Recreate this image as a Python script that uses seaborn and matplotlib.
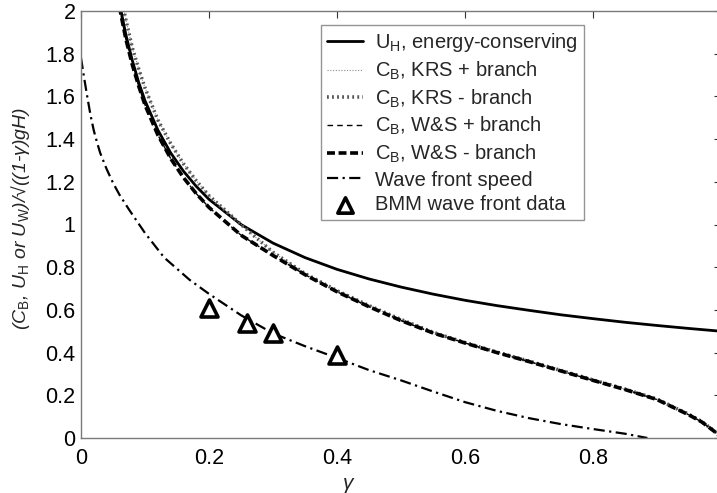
import matplotlib
matplotlib.use("Agg")
import matplotlib.pyplot as plt
import seaborn as sns

# Energy-conserving front speed U_H
gamma_uh = [0.06, 0.0625, 0.07, 0.08, 0.09, 0.10, 0.12, 0.14, 0.16, 0.18, 0.20, 0.25,
            0.30, 0.35, 0.40, 0.45, 0.50, 0.55, 0.60, 0.65, 0.70, 0.75, 0.80, 0.85,
            0.90, 0.95, 1.00]
uh = [2.04, 2.00, 1.89, 1.77, 1.667, 1.58, 1.443, 1.336, 1.25, 1.179, 1.118, 1.00,
      0.913, 0.845, 0.79, 0.745, 0.707, 0.674, 0.645, 0.62, 0.598, 0.577, 0.559, 0.542,
      0.527, 0.513, 0.50]

# Bore speed C_B, KRS theory (+ and - branches)
gamma_krs = [0.06, 0.07, 0.08, 0.09, 0.10, 0.12, 0.14, 0.16, 0.18, 0.20, 0.25, 0.30,
             0.35, 0.40, 0.45, 0.50, 0.55, 0.60, 0.65, 0.70, 0.75, 0.80, 0.85, 0.90,
             0.95, 0.97, 0.99, 1.00]
krs_plus = [2.10, 1.96, 1.83, 1.73, 1.64, 1.49, 1.38, 1.285, 1.205, 1.135, 1.00, 0.87,
            0.77, 0.69, 0.62, 0.555, 0.495, 0.447, 0.402, 0.36, 0.316, 0.272, 0.229, 0.182,
            0.11, 0.077, 0.032, 0.0]
krs_minus = [2.10, 1.96, 1.83, 1.73, 1.64, 1.49, 1.38, 1.285, 1.205, 1.135, 1.00, 0.87,
             0.77, 0.69, 0.62, 0.555, 0.495, 0.447, 0.402, 0.36, 0.316, 0.272, 0.229, 0.182,
             0.11, 0.077, 0.032, 0.0]

# Bore speed C_B, W&S theory (+ and - branches)
gamma_ws = [0.06, 0.07, 0.08, 0.09, 0.10, 0.12, 0.14, 0.16, 0.18, 0.20, 0.25, 0.30,
            0.35, 0.40, 0.45, 0.50, 0.55, 0.60, 0.65, 0.70, 0.75, 0.80, 0.85, 0.90,
            0.95, 0.97, 0.99, 1.00]
ws_plus = [2.02, 1.87, 1.75, 1.65, 1.56, 1.42, 1.31, 1.22, 1.145, 1.08, 0.95, 0.855,
           0.765, 0.685, 0.615, 0.55, 0.492, 0.445, 0.40, 0.358, 0.314, 0.27, 0.227, 0.18,
           0.108, 0.075, 0.03, 0.0]
ws_minus = [2.02, 1.87, 1.75, 1.65, 1.56, 1.42, 1.31, 1.22, 1.145, 1.08, 0.95, 0.855,
            0.765, 0.685, 0.615, 0.55, 0.492, 0.445, 0.40, 0.358, 0.314, 0.27, 0.227, 0.18,
            0.108, 0.075, 0.03, 0.0]

# Wave front speed
gamma_wave = [0.0, 0.005, 0.01, 0.015, 0.02, 0.025, 0.03, 0.04, 0.05, 0.06, 0.075,
              0.10, 0.13, 0.17, 0.20, 0.25, 0.30, 0.35, 0.40, 0.45, 0.50, 0.55, 0.60,
              0.65, 0.70, 0.75, 0.80, 0.85, 0.885]
wave = [1.78, 1.685, 1.595, 1.51, 1.44, 1.385, 1.335, 1.26, 1.195, 1.14, 1.07,
        0.96, 0.845, 0.74, 0.675, 0.575, 0.49, 0.43, 0.375, 0.318, 0.27, 0.218, 0.168,
        0.127, 0.093, 0.065, 0.042, 0.02, 0.0]

# BMM wave front measurements
gamma_bmm = [0.20, 0.26, 0.30, 0.40]
bmm = [0.61, 0.54, 0.49, 0.39]

xticks = [0, 0.2, 0.4, 0.6, 0.8, 1.0]
xtick_labels = ["0", "0.2", "0.4", "0.6", "0.8", "1"]
yticks = [0, 0.2, 0.4, 0.6, 0.8, 1.0, 1.2, 1.4, 1.6, 1.8, 2.0]
ytick_labels = ["0", "0.2", "0.4", "0.6", "0.8", "1", "1.2", "1.4", "1.6", "1.8", "2"]

sns.set_theme(style="white")
plt.rcParams["font.family"] = ["Liberation Sans", "DejaVu Sans"]
plt.rcParams["mathtext.fontset"] = "custom"
plt.rcParams["mathtext.rm"] = "Liberation Sans"
plt.rcParams["mathtext.it"] = "Liberation Sans:italic"
plt.rcParams["mathtext.bf"] = "Liberation Sans:bold"

fig = plt.figure(figsize=(7.17, 4.93), dpi=100)
ax = fig.add_axes([81 / 717, 55 / 493, 640 / 717, 427 / 493])

common = dict(ax=ax, sort=False, estimator=None, color="black")
sns.lineplot(x=gamma_uh, y=uh, linewidth=2.0, linestyle="-",
             label=r"U$_\mathrm{H}$, energy-conserving", **common)
sns.lineplot(x=gamma_krs, y=krs_plus, linewidth=0.8, linestyle=(0, (1, 1.5)),
             label=r"C$_\mathrm{B}$, KRS + branch", **{**common, "color": "#8a8a8a"})
sns.lineplot(x=gamma_krs, y=krs_minus, linewidth=2.6, linestyle=(0, (0.5, 0.9)),
             label=r"C$_\mathrm{B}$, KRS - branch", **{**common, "color": "#555555"})
sns.lineplot(x=gamma_ws, y=ws_plus, linewidth=1.0, linestyle=(0, (4, 3)),
             label=r"C$_\mathrm{B}$, W&S + branch", **common)
sns.lineplot(x=gamma_ws, y=ws_minus, linewidth=2.6, linestyle=(0, (2.2, 1.0)),
             label=r"C$_\mathrm{B}$, W&S - branch", **common)
sns.lineplot(x=gamma_wave, y=wave, linewidth=1.6, linestyle=(0, (5, 2, 1, 2)),
             label="Wave front speed", **common)
sns.scatterplot(x=gamma_bmm, y=bmm, ax=ax, marker="^", s=150, facecolor="white",
                edgecolor="black", linewidth=2.6, label="BMM wave front data",
                zorder=5)

ax.set_xlim(0, 1)
ax.set_ylim(0, 2)
ax.set_xticks(xticks)
ax.set_xticklabels(xtick_labels)
ax.set_yticks(yticks)
ax.set_yticklabels(ytick_labels)
ax.tick_params(direction="in", length=5, width=0.8, color="#333333",
               top=True, right=True, labelsize=15.5, labelcolor="black", pad=4)
ax.tick_params(axis="x", pad=7)
for sp in ax.spines.values():
    sp.set_visible(True)
    sp.set_color("#7a7a7a")
    sp.set_linewidth(1.0)

ax.set_xlabel("γ", fontsize=15, fontstyle="italic")
ax.xaxis.set_label_coords(0.417, -0.085)
ax.set_ylabel(r"(C$_\mathrm{B}$, U$_\mathrm{H}$ or U$_\mathrm{W}$)/√((1-γ)gH)",
              fontsize=14, fontstyle="italic")
ax.yaxis.set_label_coords(-0.076, 0.514)

leg = ax.legend(loc="upper left", bbox_to_anchor=(0.375, 0.967), fontsize=14.5,
                frameon=True, fancybox=False, edgecolor="#7a7a7a",
                handlelength=1.8, handletextpad=0.6, borderpad=0.3,
                labelspacing=0.27, borderaxespad=0.0, markerscale=0.9)
leg.get_frame().set_linewidth(1.0)

fig.savefig("out.png", dpi=100)
